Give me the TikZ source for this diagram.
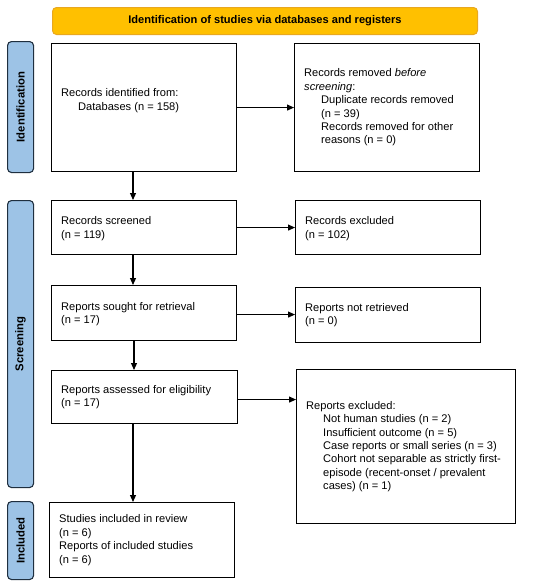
\documentclass[tikz,border=0pt]{standalone}
\usepackage{fontspec}
\setmainfont{Liberation Sans}
\usetikzlibrary{arrows.meta,calc}
\definecolor{bannerfill}{HTML}{FFC000}
\definecolor{bannerline}{HTML}{E8A820}
\definecolor{sidefill}{HTML}{9DC3E6}
\definecolor{sideline}{HTML}{1F2F3F}
\tikzset{
  box/.style={draw=black, line width=1.1pt, fill=white, anchor=north west, inner sep=0pt,
    font=\fontsize{11.1}{13.4}\selectfont},
  txt/.style={anchor=west, align=left, inner sep=0pt, font=\fontsize{11.1}{13.4}\selectfont},
  side/.style={draw=sideline, line width=1.1pt, fill=sidefill, rounded corners=4pt, anchor=north west,
    minimum width=26pt, inner sep=0pt},
  sidetxt/.style={rotate=90, font=\bfseries\fontsize{11.3}{12}\selectfont},
  arr/.style={-{Triangle[length=7pt,width=6pt]}, line width=1.1pt, black},
}
\newcommand{\ind}{\hspace*{17pt}}
\begin{document}
\begin{tikzpicture}[x=1pt,y=-1pt]
\useasboundingbox (0,0) rectangle (550,584);
% banner
\node[draw=bannerline, line width=1pt, fill=bannerfill, rounded corners=4pt, anchor=north west,
  minimum width=425pt, minimum height=27pt, inner sep=0pt,
  font=\bfseries\fontsize{11.1}{12}\selectfont] (banner) at (52,7)
  {Identification of studies via databases and registers};
% side bars
\node[side, minimum height=131pt] (sid) at (7,41) {};
\node[sidetxt] at (sid.center) {Identification};
\node[side, minimum height=287pt] (sscr) at (7,200) {};
\node[sidetxt] at (sscr.center) {Screening};
\node[side, minimum height=78pt] (sinc) at (7,501) {};
\node[sidetxt] at (sinc.center) {Included};
% boxes
\node[box, minimum width=185pt, minimum height=128pt] (ident) at (51,43) {};
\node[txt] (identt) at ($(ident.west)+(10,-7)$) {Records identified from:\\\ind Databases (n = 158)};
\node[box, minimum width=185pt, minimum height=128pt] (removed) at (294,43) {};
\node[txt] (removedt) at ($(removed.west)+(10,0)$) {Records removed \textit{before}\\\textit{screening}:\\\ind Duplicate records removed\\\ind (n = 39)\\\ind Records removed for other\\\ind reasons (n = 0)};
\node[box, minimum width=185pt, minimum height=54pt] (screened) at (51,200) {};
\node[txt] at ($(screened.west)+(10,1)$) {Records screened\\(n = 119)};
\node[box, minimum width=185pt, minimum height=54pt] (excl) at (295,200) {};
\node[txt] at ($(excl.west)+(10,1)$) {Records excluded\\(n = 102)};
\node[box, minimum width=185pt, minimum height=55pt] (sought) at (51,285) {};
\node[txt] at ($(sought.west)+(10,1)$) {Reports sought for retrieval\\(n = 17)};
\node[box, minimum width=185pt, minimum height=55pt] (notret) at (295,287) {};
\node[txt] at ($(notret.west)+(10,0)$) {Reports not retrieved\\(n = 0)};
\node[box, minimum width=186pt, minimum height=53pt] (assessed) at (51,370) {};
\node[txt] at ($(assessed.west)+(10,0)$) {Reports assessed for eligibility\\(n = 17)};
\node[box, minimum width=219pt, minimum height=154pt] (rexcl) at (296,369) {};
\node[txt] at ($(rexcl.west)+(10,0)$) {Reports excluded:\\\ind Not human studies (n = 2)\\\ind Insufficient outcome (n = 5)\\\ind Case reports or small series (n = 3)\\\ind Cohort not separable as strictly first-\\\ind episode (recent-onset / prevalent\\\ind cases) (n = 1)};
\node[box, minimum width=185pt, minimum height=75pt] (incl) at (49,502) {};
\node[txt] at ($(incl.west)+(10,0)$) {Studies included in review\\(n = 6)\\Reports of included studies\\(n = 6)};
% arrows
\draw[arr] (ident.east) -- (ident.east -| removed.west);
\draw[arr] (screened.east) -- (screened.east -| excl.west);
\draw[arr] ($(sought.east)+(0,1.5)$) -- ($(sought.east -| notret.west)+(0,1.5)$);
\draw[arr] ($(assessed.east)+(0,2.5)$) -- ($(assessed.east -| rexcl.west)+(0,2.5)$);
\coordinate (d1) at ($(ident.south west)+(82,0)$);
\coordinate (d2) at ($(screened.south west)+(82,0)$);
\coordinate (d3) at ($(sought.south west)+(83,0)$);
\coordinate (d4) at ($(assessed.south west)+(82,0)$);
\draw[arr] (d1) -- (d1 |- screened.north);
\draw[arr] (d2) -- (d2 |- sought.north);
\draw[arr] (d3) -- (d3 |- assessed.north);
\draw[arr] (d4) -- (d4 |- incl.north);
\end{tikzpicture}
\end{document}
